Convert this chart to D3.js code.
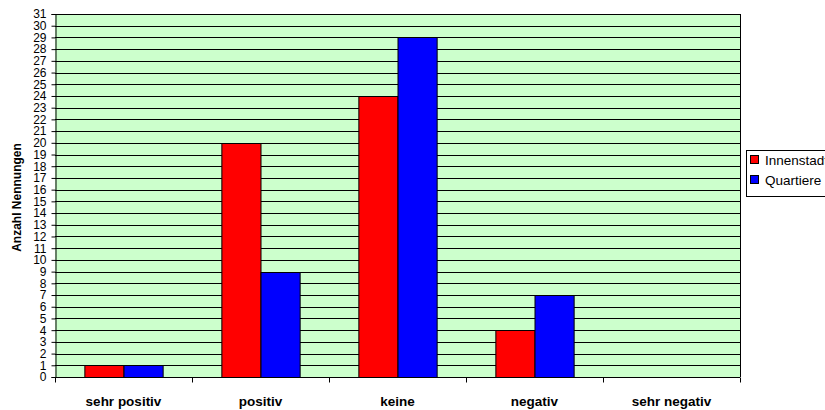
<!DOCTYPE html>
<html>
<head>
<meta charset="utf-8">
<script src="https://cdn.jsdelivr.net/npm/d3@7"></script>
<style>
  html, body { margin: 0; padding: 0; background: #fff; overflow: hidden; }
  svg { display: block; font-family: "Liberation Sans", Arial, sans-serif; }
</style>
</head>
<body>
<svg id="chart" width="825" height="410"></svg>
<script>
// Antworten pro Kategorie
const categories = ["sehr positiv", "positiv", "keine", "negativ", "sehr negativ"];
const seriesNames = ["Innenstadt", "Quartiere"];
const innenstadt = [1, 20, 24, 4, 0];
const quartiere = [1, 9, 29, 7, 0];
const yTicks = d3.range(0, 32);
const colors = ["#FF0000", "#0000FF"];

const svg = d3.select("#chart");
const margin = { left: 55, right: 85, top: 14, bottom: 33 };
const W = 825, H = 410;
const plotW = W - margin.left - margin.right;
const plotH = H - margin.top - margin.bottom;

const x = d3.scaleBand().domain(categories).range([0, plotW]).paddingInner(0).paddingOuter(0);
const y = d3.scaleLinear().domain([0, 31]).range([plotH, 0]);
const gapRatio = 1.5; // gap width 150%
const barW = x.bandwidth() / (seriesNames.length + gapRatio);
const xs = d3.scaleBand().domain(seriesNames)
  .range([barW * gapRatio / 2, barW * gapRatio / 2 + barW * seriesNames.length]);

const g = svg.append("g").attr("transform", `translate(${margin.left},${margin.top})`);

// Plot background
g.append("rect").attr("x", 0).attr("y", 0).attr("width", plotW).attr("height", plotH)
  .attr("fill", "#CCFFCC");

// Horizontal gridlines
g.append("g").selectAll("line").data(yTicks.filter(d => d > 0)).join("line")
  .attr("x1", 0).attr("x2", plotW)
  .attr("y1", d => Math.round(y(d)) + 0.5).attr("y2", d => Math.round(y(d)) + 0.5)
  .attr("stroke", "#000").attr("stroke-width", 1);

// Right border
g.append("line").attr("x1", plotW + 0.5).attr("x2", plotW + 0.5).attr("y1", 0).attr("y2", plotH)
  .attr("stroke", "#000");

// Bars
const data = categories.map((c, i) => ({ cat: c, vals: [innenstadt[i], quartiere[i]] }));
const groups = g.append("g").selectAll("g").data(data).join("g")
  .attr("transform", d => `translate(${x(d.cat)},0)`);
groups.selectAll("rect").data(d => d.vals.map((v, j) => ({ v, s: seriesNames[j], j })))
  .join("rect")
  .filter(d => d.v > 0)
  .attr("x", d => xs(d.s) + 0.5)
  .attr("y", d => Math.round(y(d.v)) + 0.5)
  .attr("width", barW)
  .attr("height", d => Math.round(y(0)) - Math.round(y(d.v)))
  .attr("fill", d => colors[d.j])
  .attr("stroke", "#000").attr("stroke-width", 1);

// Y axis
const yAxis = d3.axisLeft(y).tickValues(yTicks).tickSize(4).tickPadding(5).tickFormat(d3.format("d"));
const ya = g.append("g").attr("transform", "translate(0.5,0)").call(yAxis);
ya.select(".domain").attr("stroke", "#000");
ya.selectAll(".tick line").attr("stroke", "#000");
ya.selectAll(".tick text").attr("font-size", 12).attr("fill", "#000")
  .attr("font-family", "'Liberation Sans', Arial, sans-serif");

// X axis with ticks at category boundaries
const xa = g.append("g").attr("transform", `translate(0,${Math.round(plotH) + 0.5})`);
xa.append("line").attr("x1", 0).attr("x2", plotW).attr("stroke", "#000");
const bounds = categories.map(c => x(c)).concat([plotW]);
xa.selectAll("line.tk").data(bounds).join("line").attr("class", "tk")
  .attr("x1", d => Math.round(d) + 0.5).attr("x2", d => Math.round(d) + 0.5)
  .attr("y1", 0).attr("y2", 5).attr("stroke", "#000");
xa.selectAll("text").data(categories).join("text")
  .attr("x", d => x(d) + x.bandwidth() / 2)
  .attr("y", 28)
  .attr("text-anchor", "middle")
  .attr("font-size", 13.5).attr("font-weight", "bold").attr("fill", "#000")
  .text(d => d);

// Y axis title
svg.append("text")
  .attr("transform", `translate(21,${margin.top + plotH / 2 + 2}) rotate(-90)`)
  .attr("text-anchor", "middle")
  .attr("font-size", 12).attr("font-weight", "bold").attr("fill", "#000")
  .text("Anzahl Nennungen");

// Legend
const lg = svg.append("g").attr("transform", "translate(746,150)");
lg.append("rect").attr("x", 0.5).attr("y", 0.5).attr("width", 100).attr("height", 46)
  .attr("fill", "#fff").attr("stroke", "#000");
seriesNames.forEach((s, i) => {
  const row = lg.append("g").attr("transform", `translate(4,${5 + i * 20})`);
  row.append("rect").attr("x", 0.5).attr("y", 0.5).attr("width", 8).attr("height", 8)
    .attr("fill", colors[i]).attr("stroke", "#000");
  row.append("text").attr("x", 15).attr("y", 9.5).attr("font-size", 13.5).attr("fill", "#000").text(s);
});
</script>
</body>
</html>
